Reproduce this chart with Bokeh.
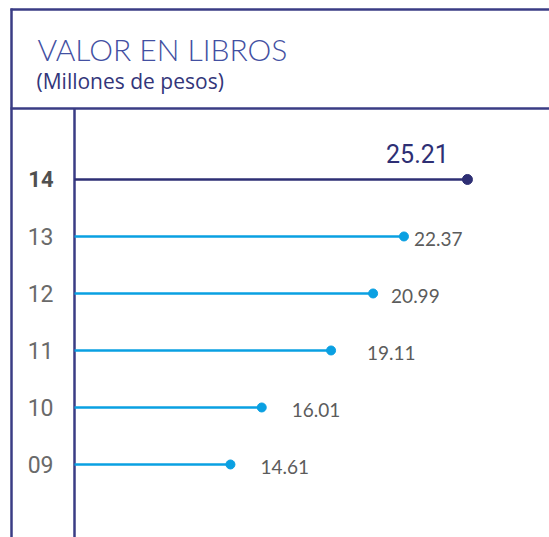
from bokeh.plotting import figure
from bokeh.models import ColumnDataSource, Range1d, Label
from bokeh.core.properties import value
from bokeh.embed import file_html
from bokeh.resources import INLINE

# ---- data ----
years = ["09", "10", "11", "12", "13", "14"]
year_pos = [9, 10, 11, 12, 13, 14]
book_values = [14.61, 16.01, 19.11, 20.99, 22.37, 25.21]
title_text = "VALOR EN LIBROS"
subtitle_text = "(Millones de pesos)"

# ---- styling / layout ----
W, H = 549, 537
X_START, X_END = 4.325, 28.88
Y_START, Y_END = 7.719, 17.14
NAVY = "#2e2f74"
BLUE = "#0aa0e2"
FRAME = "#3a3c85"
GRAY = "#5c5c5c"
TITLE_C = "#4350a2"
NARROW = "'Liberation Sans Narrow', 'Roboto', sans-serif"
label_dx = [30, 30, 36, 18, 10]


def sx(px):
    return X_START + px * (X_END - X_START) / W


def sy(py):
    return Y_END - py * (Y_END - Y_START) / H


p = figure(width=W, height=H, x_range=Range1d(X_START, X_END),
           y_range=Range1d(Y_START, Y_END), output_backend="svg",
           toolbar_location=None, min_border=0,
           x_axis_location=None, y_axis_location=None)
p.grid.visible = False
p.outline_line_color = None
p.background_fill_color = "white"
p.border_fill_color = "white"

# frame
p.segment(x0=[sx(11), sx(10), sx(10), sx(74)],
          y0=[sy(8), sy(9), sy(108), sy(108)],
          x1=[sx(11), sx(W), sx(W), sx(74)],
          y1=[sy(H), sy(9), sy(108), sy(H)],
          line_color=FRAME, line_width=2.5)

n = len(years)
colors = [BLUE] * (n - 1) + [NAVY]
sizes = [9] * (n - 1) + [10]
src = ColumnDataSource(dict(y=year_pos, v=book_values, c=colors, s=sizes))
base = sx(74)
p.segment(x0=base, y0="y", x1="v", y1="y", source=src, line_color="c", line_width=2.5)
p.scatter("v", "y", source=src, size="s", color="c")

# year labels
lab_norm = ColumnDataSource(dict(y=year_pos[:-1], t=years[:-1]))
lab_bold = ColumnDataSource(dict(y=year_pos[-1:], t=years[-1:]))
p.text(x=sx(53), y="y", text="t", source=lab_norm, text_align="right",
       text_baseline="middle", text_font=value(NARROW), text_font_size="23px",
       text_color="#6a6a6a")
p.text(x=sx(53), y="y", text="t", source=lab_bold, text_align="right",
       text_baseline="middle", text_font=value(NARROW), text_font_size="22px",
       text_font_style="bold", text_color="#505050")

# value labels
val_norm = ColumnDataSource(dict(y=year_pos[:-1], v=book_values[:-1],
                                 t=[f"{x:.2f}" for x in book_values[:-1]],
                                 dx=label_dx))
p.text(x="v", y="y", text="t", source=val_norm, x_offset="dx", y_offset=3,
       text_align="left", text_baseline="middle", text_font=value("Lato"),
       text_font_size="19px", text_color=GRAY)
val_hi = ColumnDataSource(dict(y=year_pos[-1:], v=book_values[-1:],
                               t=[f"{x:.2f}" for x in book_values[-1:]]))
p.text(x="v", y="y", text="t", source=val_hi, x_offset=-50, y_offset=-16,
       text_align="center", text_baseline="bottom", text_font=value(NARROW),
       text_font_size="25px", text_color=NAVY)

# titles
p.add_layout(Label(x=sx(37), y=sy(48), text=title_text,
                   text_font="'Lato Light', 'Lato', sans-serif",
                   text_font_size="30px", text_color=TITLE_C,
                   text_baseline="alphabetic"))
p.add_layout(Label(x=sx(36), y=sy(80), text=subtitle_text,
                   text_font="'Open Sans', sans-serif",
                   text_font_size="21px", text_color="#33367a",
                   text_baseline="alphabetic"))

open("out.html", "w").write(file_html(p, INLINE))
